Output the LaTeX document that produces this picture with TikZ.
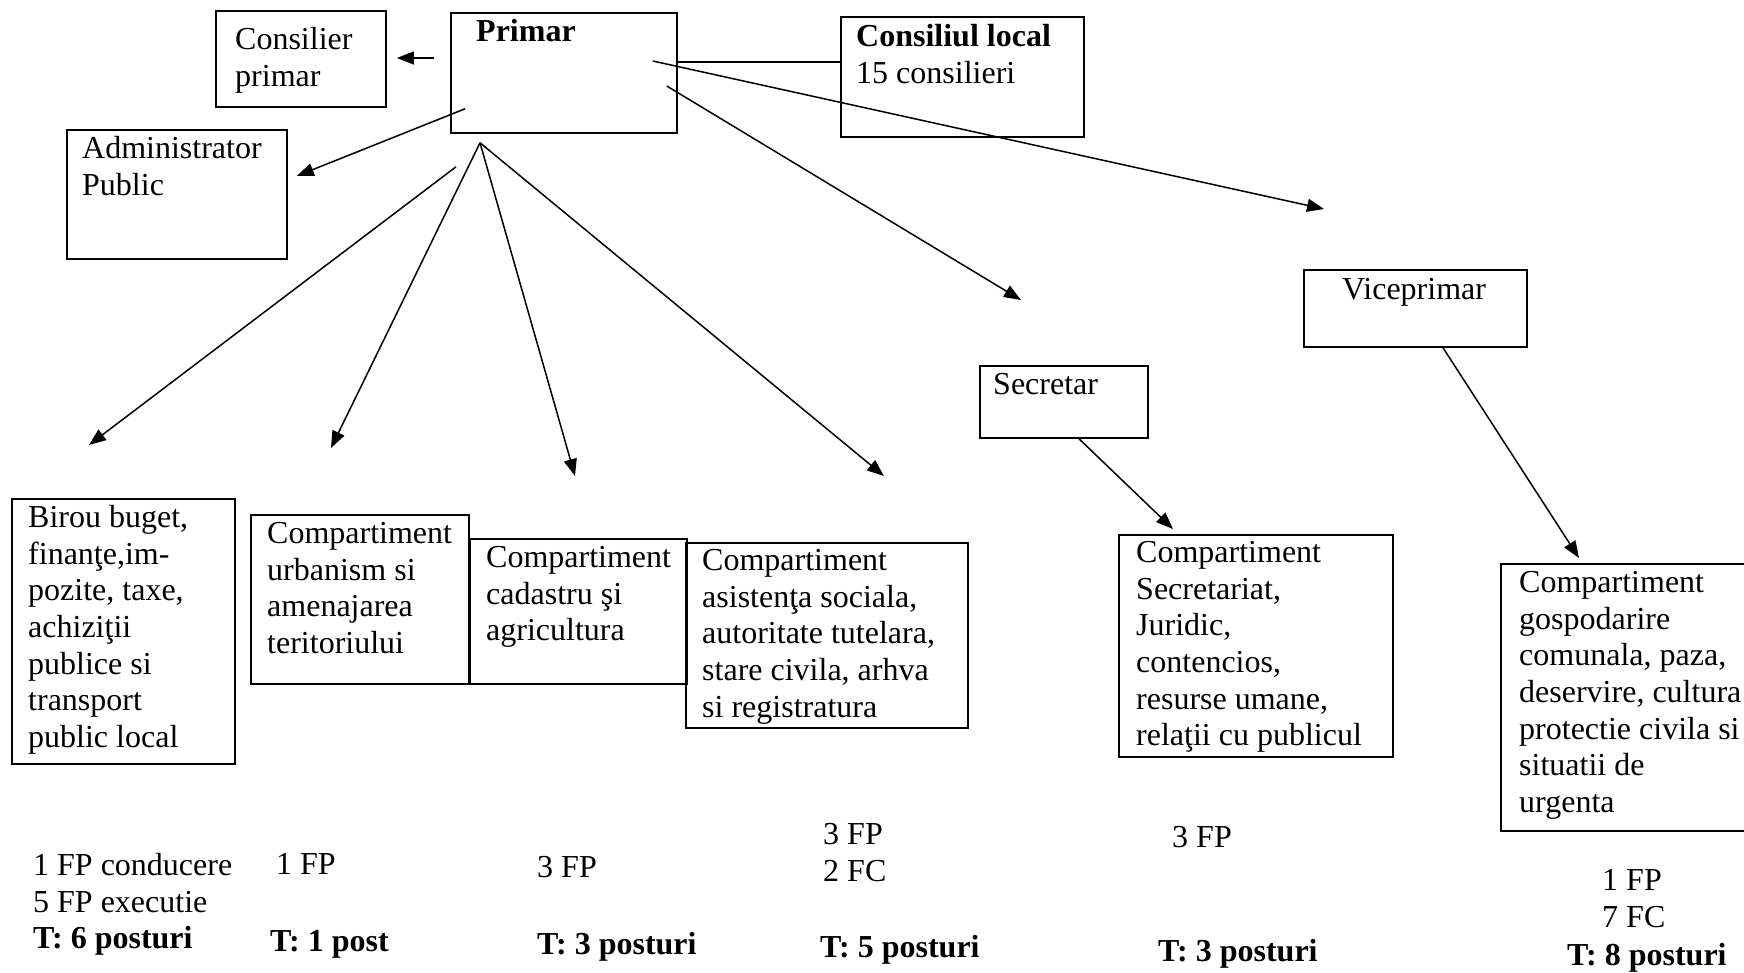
\documentclass[tikz,border=0pt]{standalone}
\usepackage{fontspec}
\setmainfont{Liberation Serif}
\usetikzlibrary{calc,arrows.meta}
\newcommand{\orgfont}{\fontsize{32}{36.7}\selectfont}
\tikzset{
  box/.style 2 args={draw, line width=1.8pt, anchor=north west, minimum width=#1, minimum height=#2, inner sep=0pt},
  txt/.style={anchor=north west, align=left, inner sep=0pt, font=\orgfont},
  arr/.style={line width=1.5pt, -{Triangle[length=17pt,width=13pt]}},
}

\begin{document}
\begin{tikzpicture}[x=1pt, y=-1pt]
		\useasboundingbox (0,0) rectangle (1744,972);
		\fill[white] (0,0) rectangle (1744,972);
		% boxes
		\node[box={170}{96}] (consp) at (215,10) {};
		\node[box={226}{120}] (prim) at (450,12) {};
		\node[box={243}{120}] (cons) at (840,16) {};
		\node[box={220}{129}] (adm) at (66,129) {};
		\node[box={223}{77}] (vice) at (1303,269) {};
		\node[box={168}{72}] (secr) at (979,365) {};
		\node[box={223}{265}] (birou) at (11,498) {};
		\node[box={218}{169}] (urb) at (250,514) {};
		\node[box={217}{145}] (cad) at (469,538) {};
		\node[box={282}{185}] (asis) at (685,542) {};
		\node[box={274}{222}] (secrt) at (1118,534) {};
		\node[box={250}{267}] (gosp) at (1500,563) {};
		% texts of the boxes
		\node[txt] (consptx) at (235,27) {Consilier\\primar};
		\node[txt] (primtx) at (476,19) {\textbf{Primar}};
		\node[txt] (constx) at (856,24) {\textbf{Consiliul local}\\15 consilieri};
		\node[txt] (admtx) at (82,136) {Administrator\\Public};
		\node[txt] (vicetx) at (1342,278) {Viceprimar};
		\node[txt] (secrtx) at (993,373) {Secretar};
		\node[txt] (biroutx) at (28,505) {Birou buget,\\finanţe,im-\\pozite, taxe,\\achiziţii\\publice si\\transport\\public local};
		\node[txt] (urbtx) at (267,522) {Compartiment\\urbanism si\\amenajarea\\teritoriului};
		\node[txt] (cadtx) at (486,546) {Compartiment\\cadastru şi\\agricultura};
		\node[txt] (asistx) at (702,549) {Compartiment\\asistenţa sociala,\\autoritate tutelara,\\stare civila, arhva\\si registratura};
		\node[txt] (secrttx) at (1136,541) {Compartiment\\Secretariat,\\Juridic,\\contencios,\\resurse umane,\\relaţii cu publicul};
		\node[txt] (gosptx) at (1519,571) {Compartiment\\gospodarire\\comunala, paza,\\deservire, cultura\\protectie civila si\\situatii de\\urgenta};
		% posts
		\node[txt] (n1) at (33,853) {1 FP conducere\\5 FP executie\\\textbf{T: 6 posturi}};
		\node[txt] (n2) at (276,853) {1 FP};
		\node[txt] (t2) at (270,930) {\textbf{T: 1 post}};
		\node[txt] (n3) at (537,856) {3 FP};
		\node[txt] (t3) at (537,932) {\textbf{T: 3 posturi}};
		\node[txt] (n4) at (823,823) {3 FP\\2 FC};
		\node[txt] (t4) at (820,935) {\textbf{T: 5 posturi}};
		\node[txt] (n5) at (1172,826) {3 FP};
		\node[txt] (t5) at (1158,939) {\textbf{T: 3 posturi}};
		\node[txt] (n6) at (1602,869) {1 FP\\7 FC};
		\node[txt] (t6) at (1567,943) {\textbf{T: 8 posturi}};
		% connectors
		\coordinate (fan) at ($(prim.south west)+(30,9)$);
		\draw[arr] ($(prim.north west)+(-16,46)$) -- ($(consp.north east)+(10,48)$);
		\draw[arr] ($(prim.south west)+(15,-25)$) -- ($(adm.north east)+(9,47)$);
		\draw[line width=1.5pt] ($(prim.north east)+(0,50)$) -- ($(cons.north west)+(0,46)$);
		\draw[arr] ($(prim.north east)+(-25,49)$) -- ($(vice.north west)+(21,-60)$);
		\draw[arr] ($(prim.north east)+(-11,74)$) -- ($(secr.north west)+(42,-65)$);
		\draw[arr] ($(prim.south west)+(6,33)$) -- ($(birou.north west)+(78,-53)$);
		\draw[arr] (fan) -- ($(urb.north west)+(81,-66)$);
		\draw[arr] (fan) -- ($(cad.north west)+(106,-62)$);
		\draw[arr] (fan) -- ($(asis.north west)+(199,-66)$);
		\draw[arr] ($(secr.south west)+(100,0)$) -- ($(secrt.north west)+(55,-5)$);
		\draw[arr] ($(vice.south west)+(140,0)$) -- ($(gosp.north west)+(79,-5)$);
	\end{tikzpicture}
\end{document}
